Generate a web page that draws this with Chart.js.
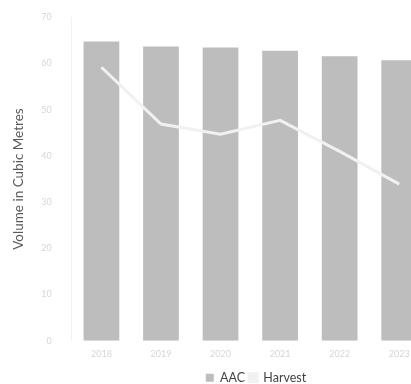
<!DOCTYPE html>
<html>
<head>
<meta charset="utf-8">
<script src="https://cdn.jsdelivr.net/npm/chart.js@4/dist/chart.umd.min.js"></script>
<style>
  html, body { margin: 0; padding: 0; background: #fff; overflow: hidden; }
  #wrap { position: relative; width: 436px; height: 394px; }
</style>
</head>
<body>
<div id="wrap"><canvas id="chart"></canvas></div>
<script>
// Allowable annual cut versus actual harvest, by year
const years = ['2018', '2019', '2020', '2021', '2022', '2023'];
const aacVolume = [64.8, 63.7, 63.5, 62.8, 61.6, 60.7];
const harvestVolume = [59.2, 46.9, 44.7, 47.7, 41.0, 33.9];
const yTicks = [0, 10, 20, 30, 40, 50, 60, 70];

// Nudge the centred legend to the right
const legendShift = {
  id: 'legendShift',
  afterLayout(chart) {
    const lg = chart.legend;
    if (lg) { lg.left += 38; lg.right += 38; }
  }
};

new Chart(document.getElementById('chart'), {
  data: {
    labels: years,
    datasets: [
      {
        type: 'line',
        label: 'Harvest',
        data: harvestVolume,
        borderColor: '#f1f1f1',
        backgroundColor: '#f1f1f1',
        borderWidth: 3,
        pointRadius: 0,
        tension: 0,
        order: 0
      },
      {
        type: 'bar',
        label: 'AAC',
        data: aacVolume,
        backgroundColor: '#bdbdbd',
        borderWidth: 0,
        barPercentage: 0.75,
        categoryPercentage: 0.8,
        order: 1
      }
    ]
  },
  options: {
    responsive: true,
    maintainAspectRatio: false,
    animation: false,
    layout: { padding: { top: 12, right: 7, left: 7, bottom: 0 } },
    plugins: {
      legend: {
        position: 'bottom',
        reverse: true,
        labels: {
          boxWidth: 8,
          boxHeight: 8,
          padding: 4,
          color: '#444',
          font: { family: 'Lato', size: 12.5 }
        }
      },
      tooltip: { enabled: false }
    },
    scales: {
      x: {
        grid: { display: false, drawTicks: false },
        border: { display: false },
        ticks: { color: '#d6d6d6', font: { family: 'Lato', size: 9 }, padding: 8 }
      },
      y: {
        min: 0,
        max: 70,
        afterBuildTicks(axis) { axis.ticks = yTicks.map(v => ({ value: v })); },
        grid: { display: false },
        border: { display: true, color: '#f2f2f2' },
        ticks: { color: '#d6d6d6', font: { family: 'Lato', size: 9 }, padding: 12 },
        title: {
          display: true,
          text: 'Volume in Cubic Metres',
          color: '#5a5a5a',
          font: { family: 'Lato', size: 13.5 },
          padding: { bottom: 2 }
        }
      }
    }
  },
  plugins: [legendShift]
});
</script>
</body>
</html>
